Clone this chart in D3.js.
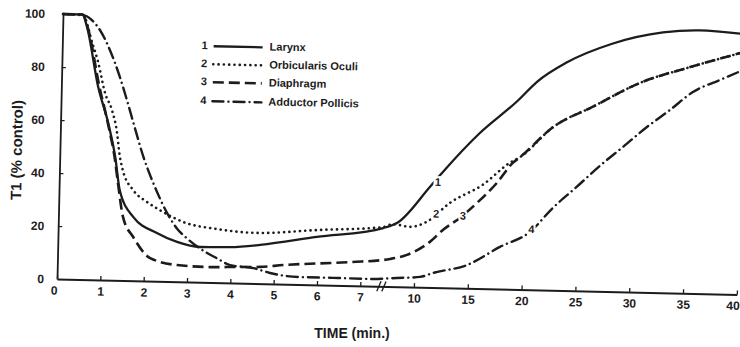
<!DOCTYPE html>
<html>
<head>
<meta charset="utf-8">
<script src="https://cdn.jsdelivr.net/npm/d3@7"></script>
<style>
  html, body { margin: 0; padding: 0; background: #fff; }
  svg { display: block; }
  text { font-family: "Liberation Sans", Arial, sans-serif; font-weight: bold; fill: #1c1c1c; }
</style>
</head>
<body>
<svg id="chart" width="740" height="347"></svg>
<script>
// ---- data ----
const seriesNames = ["Larynx", "Orbicularis Oculi", "Diaphragm", "Adductor Pollicis"];
const seriesIds = ["1", "2", "3", "4"];

const larynxTime  = [0, 0.45, 0.56, 0.85, 1.10, 1.28, 1.40, 1.73, 2.28, 2.75, 3.28, 3.98, 4.67, 5.97, 7.5, 8.56, 11.27, 12.45, 15.8, 19.2, 21.0, 23.7, 27.9, 32.6, 36.0, 40];
const larynxValue = [100, 100, 95.4, 72.8, 59.3, 46.5, 34.1, 24.0, 18.2, 15.0, 13.3, 13.5, 14.6, 18.1, 22.0, 24.0, 37.9, 43.7, 58.7, 71.0, 78.5, 86.0, 93.5, 98.2, 99.3, 98.3];

const orbicTime  = [0, 0.45, 0.69, 0.84, 1.01, 1.18, 1.31, 1.38, 1.46, 1.71, 2.04, 2.41, 2.88, 3.67, 4.59, 5.97, 7.5, 8.25, 9.58, 11.07, 13.17, 16.18, 18.64, 19.6, 22.6, 26.2, 30.8, 34.9, 40];
const orbicValue = [100, 100, 89.4, 81.9, 70.6, 64.2, 55.6, 47.3, 41.7, 34.2, 29.8, 26.2, 22.6, 20.2, 19.1, 20.7, 22.4, 23.6, 22.7, 24.8, 32.1, 39.2, 47.7, 50.0, 61.6, 69.5, 79.4, 85.0, 91.3];

const diaphTime  = [0, 0.45, 0.58, 0.87, 1.11, 1.27, 1.36, 1.49, 1.74, 2.14, 2.76, 3.52, 4.15, 4.68, 5.21, 6.76, 8.08, 9.4, 11.39, 12.57, 14.12, 15.68, 17.48, 18.92, 19.6, 22.6, 26.2, 30.8, 34.9, 40];
const diaphValue = [100, 100, 95.0, 73.5, 58.0, 46.0, 36.3, 24.0, 16.4, 8.7, 6.3, 5.8, 6.1, 6.3, 7.2, 8.9, 10.4, 12.1, 17.2, 21.8, 26.5, 32.3, 40.0, 47.7, 50.0, 61.6, 69.5, 79.4, 85.0, 91.3];

const adductTime  = [0, 0.5, 0.7, 0.86, 1.06, 1.35, 1.55, 1.72, 1.93, 2.10, 2.26, 2.40, 2.58, 2.74, 2.98, 3.47, 3.69, 3.99, 4.52, 4.91, 5.61, 6.37, 7.23, 8.64, 10.55, 11.75, 14.9, 17.9, 20.65, 22.74, 24.9, 27.0, 29.1, 31.3, 33.4, 35.5, 38.0, 40];
const adductValue = [100, 99.6, 97.5, 94.3, 88.3, 76.5, 66.5, 57.5, 46.8, 39.7, 33.8, 29.0, 23.8, 20.1, 16.4, 10.9, 9.1, 6.7, 5.8, 4.1, 2.8, 2.8, 2.7, 3.3, 3.9, 5.5, 8.8, 15.9, 21.8, 31.1, 39.2, 47.3, 54.6, 62.4, 69.0, 76.0, 80.8, 84.5];

const xTickValues = [0, 1, 2, 3, 4, 5, 6, 7, 10, 15, 20, 25, 30, 35, 40];
const yTickValues = [0, 20, 40, 60, 80, 100];
const xBreak = 7.5;

// curve number labels
const curveLabelId = ["1", "2", "3", "4"];
const curveLabelTime = [12.0, 11.9, 14.4, 20.8];
const curveLabelValue = [39.5, 27.5, 27.0, 22.5];

// ---- chart ----
const svg = d3.select("#chart");
const ink = "#1c1c1c";

const x = d3.scaleLinear().domain([0, xBreak, 10, 40]).range([57, 382, 414, 737]);
const y = d3.scaleLinear().domain([0, 100]).range([279, 14]);

// the scanned figure is slightly rotated
const g = svg.append("g").attr("transform", "rotate(1.3, 57, 279)");

// axes
const xAxis = d3.axisBottom(x).tickValues(xTickValues).tickFormat(d3.format("d"))
  .tickSize(-4).tickSizeOuter(0).tickPadding(7);
const gx = g.append("g").attr("transform", `translate(0,${y(0)})`).call(xAxis);
gx.selectAll("text").attr("font-size", 12).attr("fill", ink);
gx.select(".domain").attr("stroke", ink).attr("stroke-width", 2);
gx.selectAll(".tick line").attr("stroke", ink).attr("stroke-width", 1.3);
gx.selectAll(".tick").filter(d => d === 0).select("text").attr("dx", -3);
gx.selectAll(".tick").filter(d => d === 40).select("text").attr("dx", -4);

const yAxis = d3.axisLeft(y).tickValues(yTickValues).tickFormat(d3.format("d"))
  .tickSize(-4).tickSizeOuter(0).tickPadding(13);
const gy = g.append("g").attr("transform", `translate(${x(0)},0)`).call(yAxis);
gy.selectAll("text").attr("font-size", 12).attr("fill", ink)
  .attr("dx", d => -(d / 100) * 5);
gy.select(".domain").attr("stroke", ink).attr("stroke-width", 1.8);
gy.selectAll(".tick line").attr("stroke", ink).attr("stroke-width", 1.2)
  .attr("opacity", d => (d === 0 || d === 100) ? 0 : 1);

// axis break marks
const bx = x(xBreak);
[-3, 2].forEach(off => {
  g.append("line")
    .attr("x1", bx + off - 2).attr("y1", y(0) + 5)
    .attr("x2", bx + off + 2).attr("y2", y(0) - 5)
    .attr("stroke", ink).attr("stroke-width", 1.3);
});

// series
const series = [
  { id: seriesIds[0], name: seriesNames[0], t: larynxTime, v: larynxValue, dash: null, width: 2.3, cap: "butt" },
  { id: seriesIds[1], name: seriesNames[1], t: orbicTime, v: orbicValue, dash: "0.1 5.2", width: 2.6, cap: "round" },
  { id: seriesIds[2], name: seriesNames[2], t: diaphTime, v: diaphValue, dash: "11 5", width: 2.6, cap: "butt" },
  { id: seriesIds[3], name: seriesNames[3], t: adductTime, v: adductValue, dash: "11 5 0.1 5", width: 2.4, cap: "round" }
];

const line = d3.line()
  .x(d => x(d[0]))
  .y(d => y(d[1]))
  .curve(d3.curveMonotoneX);

series.forEach(s => {
  const pts = s.t.map((t, i) => [t, s.v[i]]);
  g.append("path")
    .datum(pts)
    .attr("d", line)
    .attr("fill", "none")
    .attr("stroke", ink)
    .attr("stroke-width", s.width)
    .attr("stroke-linecap", s.cap)
    .attr("stroke-linejoin", "round")
    .attr("stroke-dasharray", s.dash);
});

// curve number labels
curveLabelId.forEach((id, i) => {
  g.append("text")
    .attr("x", x(curveLabelTime[i]))
    .attr("y", y(curveLabelValue[i]))
    .attr("text-anchor", "middle")
    .attr("dominant-baseline", "middle")
    .attr("font-size", 11)
    .attr("stroke", "#fff").attr("stroke-width", 4).attr("paint-order", "stroke")
    .text(id);
});

// legend
const legendRowY = [48, 66, 84, 103];
const lg = svg.append("g").attr("transform", "rotate(1.3, 290, 75)");
series.forEach((s, i) => {
  const yy = legendRowY[i];
  lg.append("text").attr("x", 204).attr("y", yy).attr("text-anchor", "middle")
    .attr("dominant-baseline", "middle").attr("font-size", 11).text(s.id);
  lg.append("line").attr("x1", 213).attr("x2", 262).attr("y1", yy).attr("y2", yy)
    .attr("stroke", ink).attr("stroke-width", s.width)
    .attr("stroke-linecap", s.cap).attr("stroke-dasharray", s.dash);
  lg.append("text").attr("x", 269).attr("y", yy).attr("dominant-baseline", "middle")
    .attr("font-size", 11).text(s.name);
});

// axis titles
svg.append("text")
  .attr("transform", "translate(18,150) rotate(-89)")
  .attr("text-anchor", "middle")
  .attr("dominant-baseline", "middle")
  .attr("font-size", 15)
  .text("T1 (% control)");

svg.append("text")
  .attr("x", 352).attr("y", 334)
  .attr("text-anchor", "middle")
  .attr("dominant-baseline", "middle")
  .attr("font-size", 14)
  .text("TIME (min.)");
</script>
</body>
</html>
